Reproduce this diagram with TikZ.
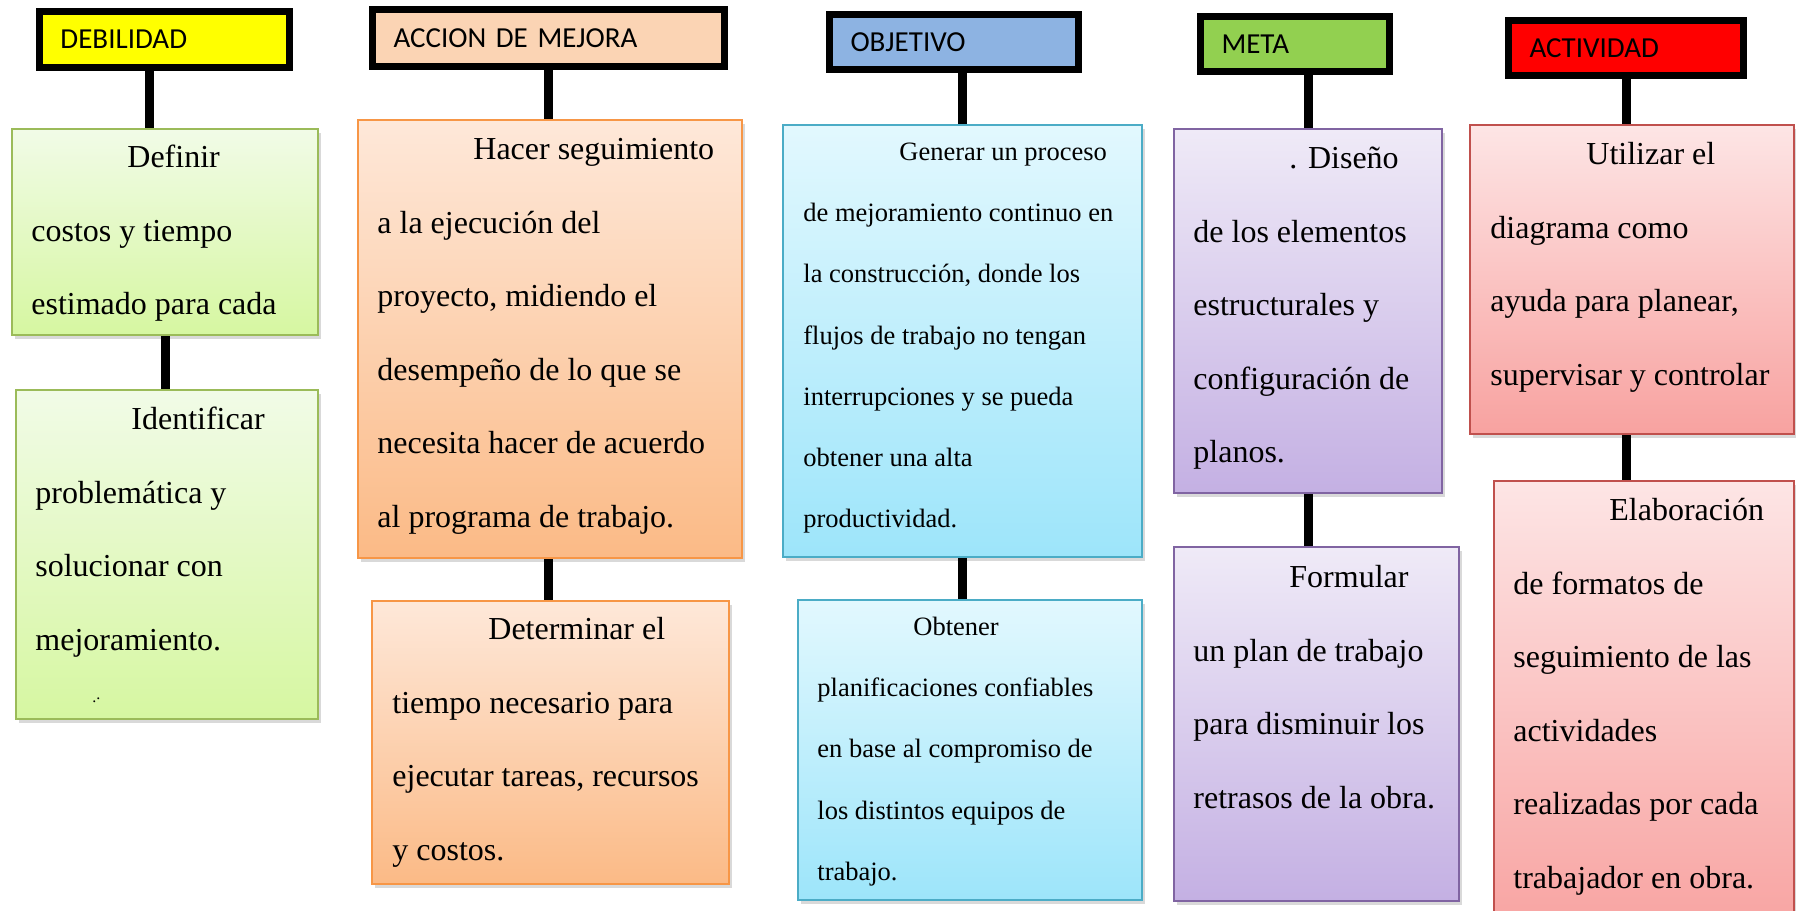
\documentclass[tikz,border=0pt]{standalone}
\usepackage{fontspec}
\setmainfont{Liberation Serif}
\newfontfamily\hdrfont{Carlito}
\usetikzlibrary{shadows}

\definecolor{hdyel}{HTML}{FFFF00}
\definecolor{hdora}{HTML}{FBD4B4}
\definecolor{hdblu}{HTML}{8DB3E2}
\definecolor{hdgrn}{HTML}{92D050}
\definecolor{hdred}{HTML}{FF0000}
\definecolor{grnline}{HTML}{9BBB59}
\definecolor{grntop}{HTML}{F1FBE7}
\definecolor{grnbot}{HTML}{D6F7A1}
\definecolor{oraline}{HTML}{F79646}
\definecolor{oratop}{HTML}{FEE8D9}
\definecolor{orabot}{HTML}{FBBA86}
\definecolor{bluline}{HTML}{4BACC6}
\definecolor{blutop}{HTML}{E2F8FE}
\definecolor{blubot}{HTML}{9DE5FA}
\definecolor{purline}{HTML}{8064A2}
\definecolor{purtop}{HTML}{EFEAF7}
\definecolor{purbot}{HTML}{C4B0E3}
\definecolor{redline}{HTML}{C0504D}
\definecolor{redtop}{HTML}{FDE5E5}
\definecolor{redbot}{HTML}{F8A2A0}

\newcommand{\firstline}[1]{\rule{0pt}{12pt}\hspace*{48pt}#1}

\begin{document}
\begin{tikzpicture}[x=0.5pt, y=-0.5pt,
    hdr/.style={draw, line width=3.5pt, inner xsep=10.5pt, inner ysep=0pt, align=left,
      font=\hdrfont\fontsize{14.5pt}{17pt}\selectfont},
    card/.style={draw=#1line, line width=1pt, top color=#1top, bottom color=#1bot,
      anchor=north west, inner sep=0pt,
      drop shadow={shadow xshift=1.5pt, shadow yshift=-2pt, opacity=0.3}},
    txt/.style={anchor=north west, inner sep=0pt, align=left,
      font=\fontsize{16pt}{36.8pt}\selectfont},
    smalltxt/.style={txt, font=\fontsize{13.25pt}{30.6pt}\selectfont},
    link/.style={line width=4.5pt}]
    \useasboundingbox (0,0) rectangle (1796,911);

    % headers
    \node[hdr, fill=hdyel, text width=104pt, minimum height=28pt] (h1) at (164.5,39.5) {DEBILIDAD};
    \node[hdr, fill=hdora, text width=155pt, minimum height=28.5pt] (h2) at (548.5,38) {ACCION DE MEJORA};
    \node[hdr, fill=hdblu, text width=103.5pt, minimum height=27.5pt] (h3) at (954,42) {OBJETIVO};
    \node[hdr, fill=hdgrn, text width=73.5pt, minimum height=27.5pt] (h4) at (1295,44) {META};
    \node[hdr, fill=hdred, text width=96.5pt, minimum height=27.5pt] (h5) at (1626,48) {ACTIVIDAD};

    % boxes
    \node[card=grn, minimum width=153pt, minimum height=103pt] (b11) at (11,128) {};
    \node[card=grn, minimum width=151pt, minimum height=164.5pt] (b12) at (15,389) {};
    \node[card=ora, minimum width=192pt, minimum height=219pt] (b21) at (357,119) {};
    \node[card=ora, minimum width=178.5pt, minimum height=141.5pt] (b22) at (371,600) {};
    \node[card=blu, minimum width=179.5pt, minimum height=216pt] (b31) at (782,124) {};
    \node[card=blu, minimum width=172pt, minimum height=150pt] (b32) at (797,599) {};
    \node[card=pur, minimum width=134pt, minimum height=182pt] (b41) at (1173,128) {};
    \node[card=pur, minimum width=142.5pt, minimum height=177pt] (b42) at (1173,546) {};
    \node[card=red, minimum width=162pt, minimum height=154.5pt] (b51) at (1469,124) {};
    \node[card=red, minimum width=150pt, minimum height=230pt] (b52) at (1493,480) {};

    % texts
    \node[txt] (t11) at ([shift={(20,15)}]b11.north west)
      {\firstline{Definir}\\costos y tiempo\\estimado para cada};
    \node[txt] (t12) at ([shift={(20,16)}]b12.north west)
      {\firstline{Identificar}\\problemática y\\solucionar con\\mejoramiento.\\[-10.5pt]
       \hspace*{28.5pt}{\fontsize{8pt}{8pt}\selectfont .\raisebox{1.5pt}{.}}};
    \node[txt] (t21) at ([shift={(20,16)}]b21.north west)
      {\firstline{Hacer seguimiento}\\a la ejecución del\\proyecto, midiendo el\\desempeño de lo que se\\necesita hacer de acuerdo\\al programa de trabajo.};
    \node[txt] (t22) at ([shift={(21,15)}]b22.north west)
      {\firstline{Determinar el}\\tiempo necesario para\\ejecutar tareas, recursos\\y costos.};
    \node[smalltxt] (t31) at ([shift={(21,12)}]b31.north west)
      {\firstline{Generar un proceso}\\de mejoramiento continuo en\\la construcción, donde los\\flujos de trabajo no tengan\\interrupciones y se pueda\\obtener una alta\\productividad.};
    \node[smalltxt] (t32) at ([shift={(20,12)}]b32.north west)
      {\firstline{Obtener}\\planificaciones confiables\\en base al compromiso de\\los distintos equipos de\\trabajo.};
    \node[txt] (t41) at ([shift={(20,16)}]b41.north west)
      {\firstline{. Diseño}\\de los elementos\\estructurales y\\configuración de\\planos.};
    \node[txt] (t42) at ([shift={(20,17)}]b42.north west)
      {\firstline{Formular}\\un plan de trabajo\\para disminuir los\\retrasos de la obra.};
    \node[txt] (t51) at ([shift={(21,16)}]b51.north west)
      {\firstline{Utilizar el}\\diagrama como\\ayuda para planear,\\supervisar y controlar};
    \node[txt] (t52) at ([shift={(20,16)}]b52.north west)
      {\firstline{Elaboración}\\de formatos de\\seguimiento de las\\actividades\\realizadas por cada\\trabajador en obra.};

    % connectors
    \draw[link] ([xshift=-8pt]b11.north |- h1.south) -- ([xshift=-8pt]b11.north);
    \draw[link] (b11.south) -- (b11.south |- b12.north);
    \draw[link] (h2.south) -- (h2.south |- b21.north);
    \draw[link] (h2.south |- b21.south) -- (h2.south |- b22.north);
    \draw[link] (b31.north |- h3.south) -- (b31.north);
    \draw[link] (b31.south) -- (b31.south |- b32.north);
    \draw[link] (b41.north |- h4.south) -- (b41.north);
    \draw[link] (b41.south) -- (b41.south |- b42.north);
    \draw[link] (h5.south) -- (h5.south |- b51.north);
    \draw[link] (h5.south |- b51.south) -- (h5.south |- b52.north);
\end{tikzpicture}
\end{document}
